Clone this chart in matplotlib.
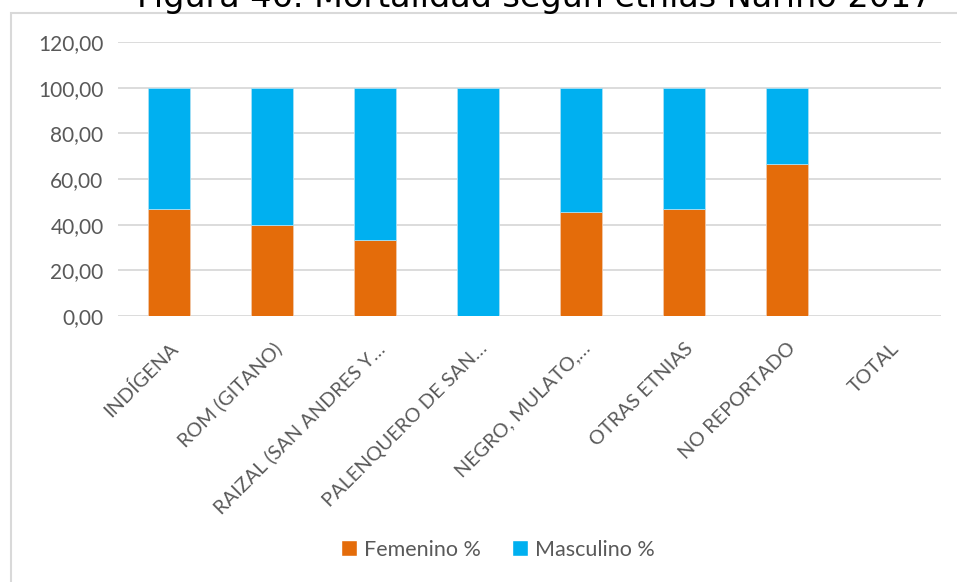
import matplotlib.pyplot as plt
from matplotlib.patches import Rectangle
from matplotlib.lines import Line2D

# Data
categories = ['INDÍGENA', 'ROM (GITANO)', 'RAIZAL (SAN ANDRES Y…',
              'PALENQUERO DE SAN…', 'NEGRO, MULATO,…', 'OTRAS ETNIAS',
              'NO REPORTADO', 'TOTAL']
femenino = [47.06, 40.00, 33.33, 0.00, 45.35, 46.67, 66.67, 0.00]
masculino = [52.94, 60.00, 66.67, 100.00, 54.65, 53.33, 33.33, 0.00]
y_ticks = [0, 20, 40, 60, 80, 100, 120]

orange = '#E46C0A'
blue = '#00B0F0'
text_gray = '#595959'
grid_gray = '#D9D9D9'

plt.rcParams['font.family'] = ['Lato', 'DejaVu Sans']

fig = plt.figure(figsize=(9.57, 5.82), dpi=100)

# outer chart frame (extends past right and bottom edge like the reference)
fig.patches.append(Rectangle((11 / 957, -0.05), 1.0, 1 - 12.5 / 582 + 0.05,
                             transform=fig.transFigure, fill=False,
                             edgecolor=grid_gray, linewidth=1.5))

ax = fig.add_axes([117.5 / 957, 1 - 316 / 582, 824 / 957, 274 / 582])

x = range(len(categories))
ax.bar(x, femenino, width=0.41, color=orange, edgecolor='#F0C8A8',
       linewidth=0.6, zorder=3, label='Femenino %')
ax.bar(x, masculino, width=0.41, bottom=femenino, color=blue,
       edgecolor='#A8E0F5', linewidth=0.6, zorder=3, label='Masculino %')

ax.set_xlim(-0.5, len(categories) - 0.5)
ax.set_ylim(0, 120)
ax.set_yticks(y_ticks)
ax.set_yticklabels([f'{v:.2f}'.replace('.', ',') for v in y_ticks],
                   fontsize=15, color=text_gray)
ax.set_xticks(list(x))
ax.set_xticklabels(categories, rotation=45, ha='right', rotation_mode='anchor',
                   fontsize=14.3, color=text_gray)

ax.yaxis.grid(True, color=grid_gray, linewidth=1.3, zorder=0)
ax.set_axisbelow(True)
for s in ax.spines.values():
    s.set_visible(False)
ax.tick_params(axis='y', length=0, pad=10)
ax.tick_params(axis='x', length=0, pad=17)

# title is partially cut off at the top in the reference
fig.text(535 / 957, 1 - 7 / 582, 'Figura 46. Mortalidad según etnias Nariño 2017',
         ha='center', va='baseline', fontsize=24, color='black',
         family=['DejaVu Sans'])

handles = [Line2D([0], [0], marker='s', color='w', markerfacecolor=orange,
                  markersize=11, label='Femenino %'),
           Line2D([0], [0], marker='s', color='w', markerfacecolor=blue,
                  markersize=11, label='Masculino %')]
fig.legend(handles=handles, loc='center', bbox_to_anchor=(0.52, 1 - 550 / 582),
           ncol=2, frameon=False, fontsize=15.5, labelcolor=text_gray,
           handlelength=0.8, handletextpad=0.3, columnspacing=1.4)

fig.savefig('out.png', dpi=100)
